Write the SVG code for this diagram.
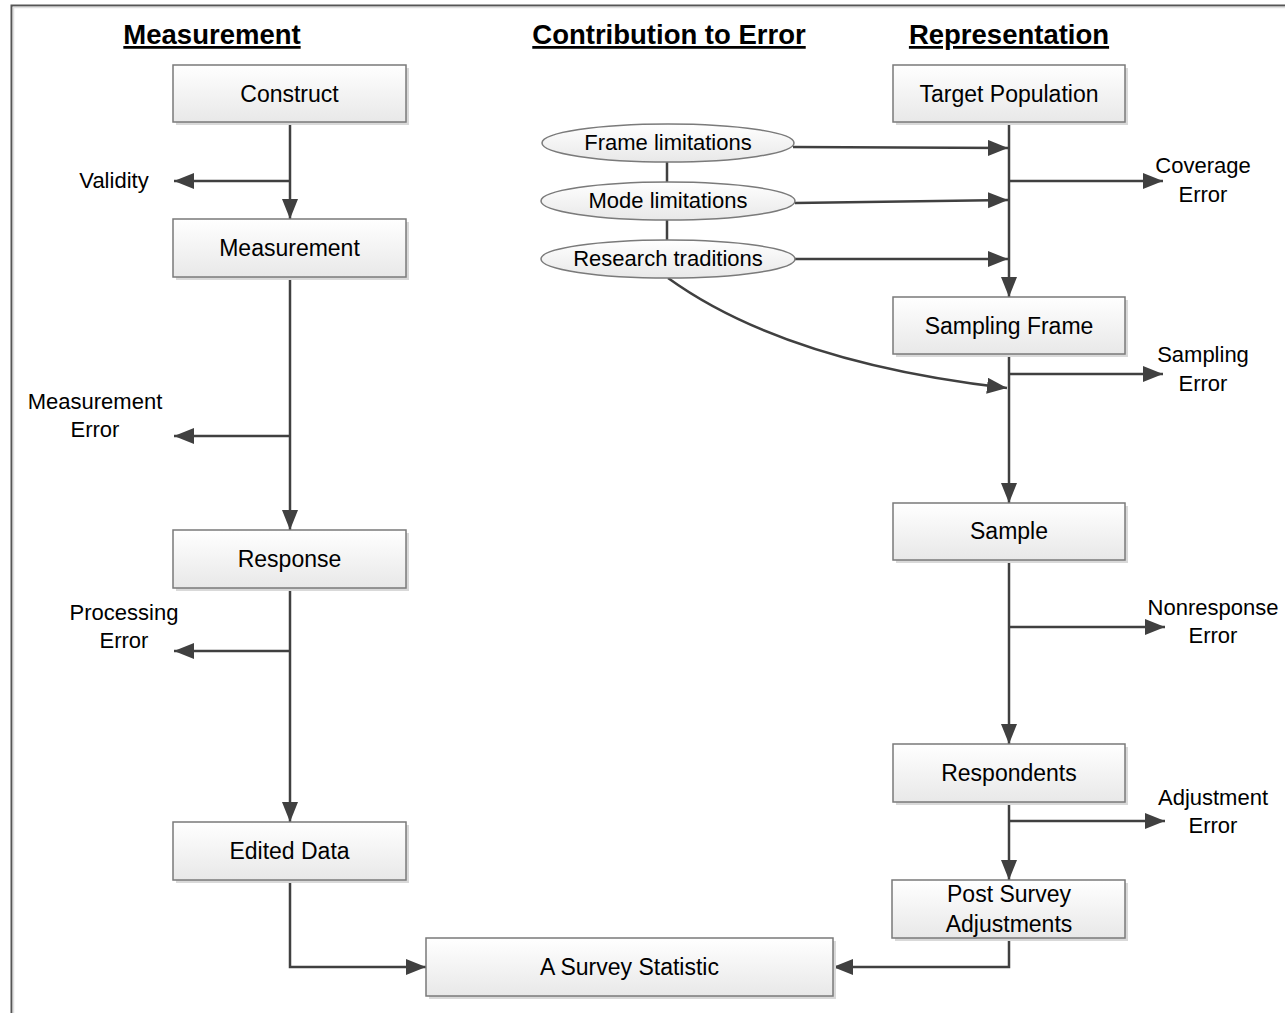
<svg xmlns="http://www.w3.org/2000/svg" width="1285" height="1013" viewBox="0 0 1285 1013">
<style>
text{font-family:"Liberation Sans",Arial,sans-serif;fill:#000;text-anchor:middle}
.hd{font-size:27.5px;font-weight:bold;text-decoration:underline}
.bx{font-size:23px}
.lb{font-size:22px}
.box{fill:url(#g);stroke:#7a7a7a;stroke-width:1.5}
.sh{fill:#d9d9d9}
.el{fill:url(#g);stroke:#7a7a7a;stroke-width:1.5}
.c{fill:none;stroke:#404040;stroke-width:2.5}
.a{marker-end:url(#ah)}
</style>
<defs>
<linearGradient id="g" x1="0" y1="0" x2="0" y2="1">
<stop offset="0" stop-color="#ffffff"/>
<stop offset="1" stop-color="#e8e8e8"/>
</linearGradient>
<marker id="ah" markerUnits="userSpaceOnUse" markerWidth="22" markerHeight="17" refX="20" refY="8" orient="auto">
<path d="M0,0 L20,8 L0,16 z" fill="#404040"/>
</marker>
</defs>
<rect x="0" y="0" width="1285" height="1013" fill="#fff"/>
<rect x="11.5" y="5.5" width="1290" height="1030" fill="none" stroke="#555" stroke-width="2"/>
<rect x="13.5" y="7.5" width="1290" height="1030" fill="none" stroke="#e0e0e0" stroke-width="1.5"/>

<g id="headers">
<text class="hd" x="212" y="44">Measurement</text>
<text class="hd" x="669" y="44">Contribution to Error</text>
<text class="hd" x="1009" y="44">Representation</text>
</g>

<g id="connectors">
<path class="c a" d="M290,122 V219"/>
<path class="c a" d="M290,181 H174"/>
<path class="c a" d="M290,277 V530"/>
<path class="c a" d="M290,436 H174"/>
<path class="c a" d="M290,588 V822"/>
<path class="c a" d="M290,651 H174"/>
<path class="c a" d="M290,880 V967 H426"/>
<path class="c a" d="M1009,122 V297"/>
<path class="c a" d="M793,147 L1008,148"/>
<path class="c a" d="M1009,181 H1163"/>
<path class="c a" d="M795,203 L1008,200"/>
<path class="c a" d="M795,259 H1008"/>
<path class="c" d="M667,162 V182 M667,220 V240"/>
<path class="c a" d="M668,278 C740,330 850,370 1007,388" stroke-width="2"/>
<path class="c a" d="M1009,354 V503"/>
<path class="c a" d="M1009,374 H1163"/>
<path class="c a" d="M1009,560 V744"/>
<path class="c a" d="M1009,627 H1165"/>
<path class="c a" d="M1009,802 V880"/>
<path class="c a" d="M1009,821 H1165"/>
<path class="c a" d="M1009,938 V967 H833"/>
</g>

<g id="construct"><rect class="sh" x="176" y="68" width="233" height="57"/><rect class="box" x="173" y="65" width="233" height="57"/><text class="bx" x="289.5" y="102">Construct</text></g>
<g id="measurement"><rect class="sh" x="176" y="222" width="233" height="58"/><rect class="box" x="173" y="219" width="233" height="58"/><text class="bx" x="289.5" y="256">Measurement</text></g>
<g id="response"><rect class="sh" x="176" y="533" width="233" height="58"/><rect class="box" x="173" y="530" width="233" height="58"/><text class="bx" x="289.5" y="567">Response</text></g>
<g id="edited-data"><rect class="sh" x="176" y="825" width="233" height="58"/><rect class="box" x="173" y="822" width="233" height="58"/><text class="bx" x="289.5" y="859">Edited Data</text></g>
<g id="target-population"><rect class="sh" x="896" y="68" width="232" height="57"/><rect class="box" x="893" y="65" width="232" height="57"/><text class="bx" x="1009" y="102">Target Population</text></g>
<g id="sampling-frame"><rect class="sh" x="896" y="300" width="232" height="57"/><rect class="box" x="893" y="297" width="232" height="57"/><text class="bx" x="1009" y="334">Sampling Frame</text></g>
<g id="sample"><rect class="sh" x="896" y="506" width="232" height="57"/><rect class="box" x="893" y="503" width="232" height="57"/><text class="bx" x="1009" y="539">Sample</text></g>
<g id="respondents"><rect class="sh" x="896" y="747" width="232" height="58"/><rect class="box" x="893" y="744" width="232" height="58"/><text class="bx" x="1009" y="781">Respondents</text></g>
<g id="post-survey"><rect class="sh" x="895" y="883" width="233" height="58"/><rect class="box" x="892" y="880" width="233" height="58"/><text class="bx" x="1009" y="902">Post Survey</text><text class="bx" x="1009" y="932">Adjustments</text></g>
<g id="survey-statistic"><rect class="sh" x="429" y="941" width="407" height="58"/><rect class="box" x="426" y="938" width="407" height="58"/><text class="bx" x="629.5" y="975">A Survey Statistic</text></g>

<g id="frame-limitations"><ellipse class="el" cx="668" cy="143" rx="126" ry="19"/><text class="lb" x="668" y="150">Frame limitations</text></g>
<g id="mode-limitations"><ellipse class="el" cx="668" cy="201" rx="127" ry="19"/><text class="lb" x="668" y="208">Mode limitations</text></g>
<g id="research-traditions"><ellipse class="el" cx="668" cy="259" rx="127" ry="19"/><text class="lb" x="668" y="266">Research traditions</text></g>

<g id="labels">
<text class="lb" x="114" y="188">Validity</text>
<text class="lb" x="95" y="409">Measurement</text><text class="lb" x="95" y="437">Error</text>
<text class="lb" x="124" y="620">Processing</text><text class="lb" x="124" y="648">Error</text>
<text class="lb" x="1203" y="173">Coverage</text><text class="lb" x="1203" y="202">Error</text>
<text class="lb" x="1203" y="362">Sampling</text><text class="lb" x="1203" y="391">Error</text>
<text class="lb" x="1213" y="615">Nonresponse</text><text class="lb" x="1213" y="643">Error</text>
<text class="lb" x="1213" y="805">Adjustment</text><text class="lb" x="1213" y="833">Error</text>
</g>
</svg>
